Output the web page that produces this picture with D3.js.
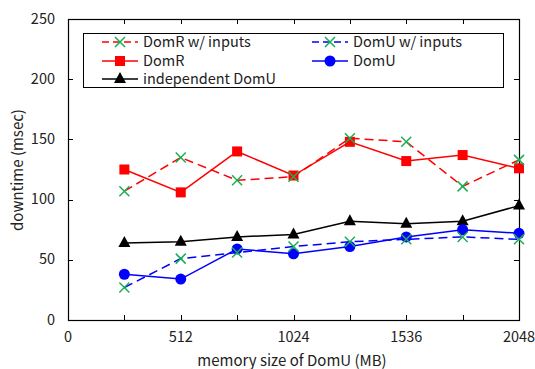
<!DOCTYPE html>
<html lang="en">
<head>
  <meta charset="UTF-8">
  <title>downtime vs memory size</title>
  <style>
    body { margin: 0; background: #fff; }
    svg { font-family: "Noto Sans CJK JP", "DejaVu Sans", sans-serif; }
  </style>
</head>
<body>
  <svg></svg>
  <script src="https://d3js.org/d3.v7.min.js"></script>
  <script>
    var memSizes = [256, 512, 768, 1024, 1280, 1536, 1792, 2048];
    var domRInputs = [107, 135, 116, 119, 151, 148, 111, 133];
    var domUInputs = [27, 51, 56, 61, 65, 67, 69, 67];
    var domR = [125, 106, 140, 120, 148, 132, 137, 126];
    var domU = [38, 34, 59, 55, 61, 69, 75, 72];
    var indepDomU = [64, 65, 69, 71, 82, 80, 82, 95];
    var xTicks = [0, 512, 1024, 1536, 2048];
    var yTicks = [0, 50, 100, 150, 200, 250];

    var width = 535, height = 369;
    var padL = 68, padR = 519, padT = 19, padB = 320;

    var xScale = d3.scaleLinear().domain([0, 2048]).range([padL, padR]);
    var yScale = d3.scaleLinear().domain([0, 250]).range([padB, padT]);

    var svg = d3.select("svg").attr("width", width).attr("height", height);

    var series = [
      { name: "DomR w/ inputs", values: domRInputs, color: "#ff0000", dash: "9,5", marker: "cross" },
      { name: "DomU w/ inputs", values: domUInputs, color: "#0000ff", dash: "9,5", marker: "cross" },
      { name: "DomR", values: domR, color: "#ff0000", dash: null, marker: "square" },
      { name: "DomU", values: domU, color: "#0000ff", dash: null, marker: "circle" },
      { name: "independent DomU", values: indepDomU, color: "#000000", dash: null, marker: "triangle" }
    ];

    // ticks (inward) on all four sides
    var minor = d3.range(0, 2049, 256);
    var tickG = svg.append("g").attr("stroke", "#000").attr("stroke-width", 1);
    minor.forEach(function(v) {
      var x = Math.round(xScale(v)) + 0.5;
      tickG.append("line").attr("x1", x).attr("x2", x).attr("y1", padB).attr("y2", padB - 5);
      tickG.append("line").attr("x1", x).attr("x2", x).attr("y1", padT).attr("y2", padT + 5);
    });
    yTicks.forEach(function(v) {
      var y = Math.round(yScale(v)) + 0.5;
      tickG.append("line").attr("x1", padL).attr("x2", padL + 5).attr("y1", y).attr("y2", y);
      tickG.append("line").attr("x1", padR).attr("x2", padR - 5).attr("y1", y).attr("y2", y);
    });

    svg.append("rect")
      .attr("x", padL + 0.5).attr("y", padT + 0.5)
      .attr("width", padR - padL).attr("height", padB - padT)
      .attr("fill", "none").attr("stroke", "#000").attr("stroke-width", 1.2);

    // tick labels
    svg.append("g").selectAll("text").data(xTicks).enter().append("text")
      .attr("x", d => xScale(d)).attr("y", 342)
      .attr("text-anchor", "middle").attr("font-size", 14.5).attr("fill", "#222")
      .text(d => d);
    svg.append("g").selectAll("text").data(yTicks).enter().append("text")
      .attr("x", 55).attr("y", d => yScale(d) + 4.5)
      .attr("text-anchor", "end").attr("font-size", 14.5).attr("fill", "#222")
      .text(d => d);

    svg.append("text")
      .attr("x", 292).attr("y", 366)
      .attr("text-anchor", "middle").attr("font-size", 15).attr("fill", "#222")
      .text("memory size of DomU (MB)");
    svg.append("text")
      .attr("transform", "translate(23,170) rotate(-90)")
      .attr("text-anchor", "middle").attr("font-size", 15).attr("fill", "#222")
      .text("downtime (msec)");

    function drawMarker(g, type, x, y) {
      if (type === "cross") {
        g.append("path")
          .attr("d", "M" + (x - 5) + "," + (y - 5) + "L" + (x + 5) + "," + (y + 5) +
                     "M" + (x - 5) + "," + (y + 5) + "L" + (x + 5) + "," + (y - 5))
          .attr("stroke", "#1aaf54").attr("stroke-width", 1.5).attr("fill", "none");
      } else if (type === "square") {
        g.append("rect").attr("x", x - 5).attr("y", y - 5).attr("width", 10).attr("height", 10)
          .attr("fill", "#ff0000");
      } else if (type === "circle") {
        g.append("circle").attr("cx", x).attr("cy", y).attr("r", 5.5).attr("fill", "#0000ff");
      } else if (type === "triangle") {
        g.append("path")
          .attr("d", "M" + x + "," + (y - 7) + "L" + (x + 6) + "," + (y + 4) + "L" + (x - 6) + "," + (y + 4) + "Z")
          .attr("fill", "#000");
      }
    }

    var line = d3.line().x((d, i) => xScale(memSizes[i])).y(d => yScale(d));

    // draw order: independent first, then others
    var order = [4, 3, 1, 2, 0];
    order.forEach(function(k) {
      var s = series[k];
      var g = svg.append("g");
      g.append("path").attr("d", line(s.values))
        .attr("fill", "none").attr("stroke", s.color)
        .attr("stroke-width", 1.5)
        .attr("stroke-dasharray", s.dash);
      s.values.forEach(function(v, i) {
        drawMarker(g, s.marker, xScale(memSizes[i]), yScale(v));
      });
    });

    // legend
    var legend = svg.append("g");
    legend.append("rect")
      .attr("x", 83.5).attr("y", 33.5).attr("width", 420).attr("height", 54)
      .attr("fill", "#fff").attr("stroke", "#000").attr("stroke-width", 1);
    var legendPos = [
      { s: 0, x: 102, y: 42 },
      { s: 1, x: 312, y: 42 },
      { s: 2, x: 102, y: 61 },
      { s: 3, x: 312, y: 61 },
      { s: 4, x: 102, y: 79 }
    ];
    legendPos.forEach(function(p) {
      var s = series[p.s];
      legend.append("line")
        .attr("x1", p.x).attr("x2", p.x + 36).attr("y1", p.y).attr("y2", p.y)
        .attr("stroke", s.color).attr("stroke-width", 1.5)
        .attr("stroke-dasharray", s.dash ? "7,4" : null);
      drawMarker(legend, s.marker, p.x + 18, p.y);
      legend.append("text")
        .attr("x", p.x + 41).attr("y", p.y + 5)
        .attr("font-size", 14.5).attr("fill", "#222")
        .text(s.name);
    });
  </script>
</body>
</html>
